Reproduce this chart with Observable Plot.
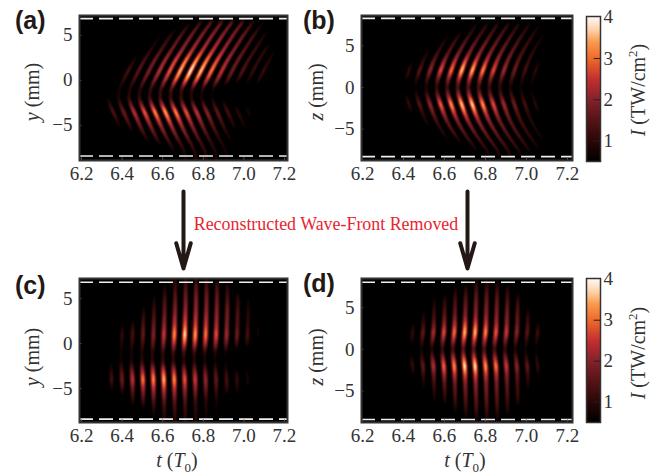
<!DOCTYPE html>
<html><head><meta charset="utf-8">
<script src="https://cdn.jsdelivr.net/npm/d3@7"></script>
<script src="https://cdn.jsdelivr.net/npm/@observablehq/plot@0.6"></script>
<style>
html,body{margin:0;padding:0;background:#fff}
#page{position:relative;width:672px;height:474px;overflow:hidden;font-family:"Liberation Serif",serif;color:#333}
#page svg{position:absolute;overflow:visible}
.tag{position:absolute;font:bold 25px "Liberation Sans",sans-serif;color:#231815;line-height:1}
.lab{position:absolute;font-size:20px;line-height:1.2;white-space:nowrap;color:#333;transform:translate(-50%,-50%)}
.rot{transform:translate(-50%,-50%) rotate(-90deg)}
i{font-style:italic}
sub,sup{font-size:13px;line-height:0}
#note{position:absolute;left:172px;top:214px;width:308px;text-align:center;color:#e8242f;font-size:17.9px;white-space:nowrap}
</style></head><body><div id="page"></div>
<script>
// Colour scale of the intensity bars
const colorStops = [0.5, 1, 1.5, 2, 2.5, 3, 3.4, 3.7, 4];
const colorRamp = ["#000000", "#2a0707", "#551416", "#84212a", "#c42f30", "#ee6a2a", "#f99a4f", "#fdd3ab", "#fff8f2"];
const barTicks = [1, 2, 3, 4];
const timeTicks = [6.2, 6.4, 6.6, 6.8, 7.0, 7.2];
const spaceTicks = [-5, 0, 5];

// Panel (a): rows in mm, wave-front shift per row, fringe intensities per row
const aRows = [7, 6.5, 5, 3.5, 2.5, 1, 0, -1, -2, -3.5, -5, -6.5, -8];
const aFront = [0.172, 0.156, 0.107, 0.066, 0.036, 0, -0.02, -0.046, -0.05, -0.02, 0.008, 0.04, 0.08];
const aStart = 6.325, aStep = 0.0513;
const aI = [
 [0,0,0,0,0,0,0,0,0,0,0,0,0,0,0,0],
 [0,0,0,0,0,.6,1.1,1.4,1.5,1.5,1.4,1.0,.5,0,0,0],
 [0,0,0,.6,1.0,1.4,1.7,1.8,1.9,1.9,1.8,1.6,1.2,.8,0,0],
 [0,0,0,.9,1.3,1.7,2.0,2.2,2.3,2.3,2.1,1.8,1.4,1.1,.9,.5],
 [0,0,.7,1.2,1.6,2.0,2.5,2.9,3.0,2.9,2.6,2.1,1.6,1.2,1.0,.8],
 [0,0,1.3,1.5,1.8,2.3,2.8,3.5,3.9,3.6,3.1,2.4,1.7,1.4,1.1,1.1],
 [0,0,1.0,1.2,1.5,1.8,2.2,2.8,3.0,2.8,2.4,1.9,1.3,.9,.8,.9],
 [0,0,.7,.8,.9,1.0,1.1,1.2,1.1,1.0,.8,.6,0,0,0,0],
 [0,.6,.8,1.0,1.0,1.1,1.1,1.0,1.0,.8,.7,.6,.5,0,0,0],
 [.7,1.4,1.7,2.4,2.9,3.3,3.5,3.3,2.9,2.5,2.0,1.6,1.3,1.0,.9,0],
 [0,.7,1.1,1.6,1.9,2.1,2.2,2.1,1.9,1.7,1.4,1.1,.8,.7,0,0],
 [0,0,0,.8,1.1,1.3,1.4,1.4,1.3,1.1,.9,.7,0,0,0,0],
 [0,0,0,0,0,.6,.8,.9,.9,.8,.7,0,0,0,0,0]
];

// Panel (b)
const bRows = [8.2, 7.6, 6, 4, 3, 2, 1, 0, -1, -2, -3, -4, -6, -7.6, -8.2];
const bFront = [0.14, 0.124, 0.081, 0.033, 0.014, 0, -0.013, -0.024, -0.013, 0, 0.014, 0.029, 0.078, 0.127, 0.14];
const bStart = 6.426, bStep = 0.0515;
const bI = [
 [0,0,0,0,0,0,0,0,0,0,0,0,0],
 [0,0,0,0,.7,.9,1.0,1.0,.9,.8,.6,0,0],
 [0,0,.7,1.0,1.2,1.3,1.4,1.4,1.3,1.2,1.0,.7,0],
 [0,.8,1.2,1.5,1.8,1.9,2.0,1.9,1.8,1.6,1.3,1.0,0],
 [.6,1.0,1.6,2.1,2.4,2.8,2.7,2.5,2.2,1.8,1.5,1.1,.7],
 [1.1,1.5,2.0,2.8,3.1,3.7,3.6,3.3,2.8,2.2,1.7,1.3,1.0],
 [.7,.9,1.2,1.6,1.9,2.2,2.2,2.0,1.7,1.4,1.2,.9,.7],
 [0,.5,.7,.9,1.0,1.1,1.2,1.1,1.0,.9,.7,.6,.5],
 [.7,.9,1.3,1.7,2.0,2.3,2.3,2.0,1.7,1.4,1.2,.9,.7],
 [1.1,1.5,2.1,3.0,3.4,3.7,3.8,3.4,2.8,2.2,1.7,1.3,1.0],
 [.6,1.0,1.6,2.2,2.5,2.8,2.8,2.5,2.2,1.8,1.4,1.0,.6],
 [0,.8,1.2,1.6,1.8,2.0,2.0,1.9,1.7,1.5,1.2,.9,0],
 [0,0,.7,1.0,1.2,1.3,1.4,1.4,1.3,1.2,1.0,.7,0],
 [0,0,0,0,.7,.9,1.0,1.0,.9,.8,.6,0,0],
 [0,0,0,0,0,.6,.7,.7,.6,0,0,0,0]
];

// Panel (c)
const cRows = [7, 6.5, 5, 3.5, 2, 1, 0, -1, -2, -3, -4, -5, -6.5, -8];
const cFront = [0.004, 0.004, 0.004, 0.003, 0.001, 0, -0.002, -0.006, -0.006, -0.003, 0, 0, 0.001, 0.002];
const cStart = 6.297, cStep = 0.0515;
const cI = [
 [0,0,0,0,0,0,0,.8,.9,.9,.8,.6,0,0,0,0],
 [0,0,0,0,0,0,.7,1.1,1.3,1.4,1.3,1.2,.9,0,0,0],
 [0,0,0,0,0,.7,1.2,1.5,1.7,1.8,1.7,1.6,1.3,1.0,.6,0],
 [0,0,0,0,.9,1.2,1.6,1.9,2.1,2.1,2.0,1.9,1.7,1.3,.9,0],
 [0,0,.6,.9,1.3,1.6,2.0,2.5,2.8,2.6,2.5,2.2,1.8,1.4,1.0,.5],
 [0,0,1.1,1.3,1.6,1.9,2.5,3.3,3.8,3.4,3.1,2.8,2.2,1.7,1.3,.8],
 [0,0,.8,1.0,1.2,1.5,1.9,2.4,2.7,2.5,2.3,2.0,1.6,1.2,.9,0],
 [0,0,.7,.7,.8,.9,1.0,1.1,1.1,1.0,.9,.8,.6,0,0,0],
 [0,.5,.7,.8,1.0,1.0,1.0,.9,.8,.8,.7,.6,.5,0,0,0],
 [.5,.9,1.3,1.7,2.1,2.3,2.5,2.3,2.0,1.8,1.5,1.2,.9,.7,.6,0],
 [.6,1.3,1.7,2.5,3.2,3.3,3.6,3.3,2.9,2.6,2.1,1.6,1.3,1.1,.8,0],
 [0,.7,1.1,1.6,2.1,2.3,2.5,2.4,2.1,1.9,1.6,1.2,1.0,.8,.5,0],
 [0,0,0,.8,1.1,1.3,1.4,1.4,1.3,1.1,.9,.7,0,0,0,0],
 [0,0,0,0,0,.6,.9,1.0,1.0,.9,.7,.5,0,0,0,0]
];

// Panel (d)
const dRows = [8.2, 7.6, 6, 4, 3, 2, 1, 0, -1, -2, -3, -4, -6, -7.6, -8.2];
const dFront = [0.006, 0.005, 0.004, 0.002, 0.001, 0, -0.006, -0.01, -0.006, 0, 0.001, 0.002, 0.004, 0.005, 0.006];
const dStart = 6.445, dStep = 0.0509;
const dI = [
 [0,0,0,0,0,0,.7,.7,.6,0,0,0,0],
 [0,0,0,0,.6,.8,1.1,1.1,1.0,.8,0,0,0],
 [0,0,.7,.9,1.2,1.4,1.6,1.6,1.5,1.3,1.0,0,0],
 [0,.8,1.2,1.5,1.7,1.9,2.0,2.0,1.9,1.8,1.5,1.0,0],
 [.6,1.1,1.6,2.0,2.3,2.7,2.7,2.5,2.2,2.0,1.6,1.2,.7],
 [1.1,1.6,2.3,2.8,3.1,3.6,3.6,3.3,2.9,2.6,2.0,1.5,1.2],
 [.8,1.1,1.5,1.8,2.1,2.4,2.4,2.2,2.0,1.7,1.3,1.0,.8],
 [0,.6,.7,.9,1.0,1.2,1.2,1.1,1.0,.9,.7,.6,.5],
 [.8,1.1,1.6,2.0,2.3,2.6,2.6,2.3,2.2,1.8,1.4,1.0,.8],
 [1.1,1.6,2.4,3.0,3.3,3.9,3.9,3.4,3.2,2.6,2.0,1.6,1.1],
 [.6,1.1,1.6,2.2,2.4,2.7,2.7,2.5,2.3,1.9,1.5,1.1,.6],
 [0,.8,1.2,1.5,1.7,1.9,2.0,1.9,1.8,1.6,1.3,.9,0],
 [0,0,.7,.9,1.2,1.4,1.5,1.5,1.4,1.2,1.0,0,0],
 [0,0,0,0,.6,.9,1.1,1.1,1.0,.8,0,0,0],
 [0,0,0,0,0,.6,.8,.8,.7,0,0,0,0]
];

const page = document.getElementById("page");
const serif = '"Liberation Serif",serif';

// Value at (t, y): the fringe nearest in t, its read intensity at this row, and its soft edge.
// A short running mean along y rounds the corners between the read rows.
function fringes(rows, front, start, step, I) {
  const shiftAt = d3.scaleLinear().domain(rows).range(front).clamp(true);
  const shift = y => (shiftAt(y - 0.8) + 2 * shiftAt(y) + shiftAt(y + 0.8)) / 4;
  const columns = I[0].map((_, k) => d3.scaleLinear().domain(rows).range(I.map(r => r[k])).clamp(true));
  const level = (k, y) => (columns[k](y - 0.35) + 2 * columns[k](y) + columns[k](y + 0.35)) / 4;
  return (t, y) => {
    const pos = (t - start - shift(y)) / step;
    const k = Math.round(pos);
    if (k < 0 || k >= columns.length) return 0;
    return level(k, y) * 1.05 * Math.cos(Math.PI * (pos - k)) ** 2;
  };
}

function panel({left, top, w, h, xDomain, yDomain, dashes, field}) {
  const mL = 60, mR = 14, mT = 10, mB = 34;
  const svg = Plot.plot({
    width: w + mL + mR, height: h + mT + mB,
    marginLeft: mL, marginRight: mR, marginTop: mT, marginBottom: mB,
    style: {fontFamily: serif, fontSize: "19px", background: "transparent", color: "#333", overflow: "visible"},
    x: {domain: xDomain}, y: {domain: yDomain},
    color: {type: "linear", domain: colorStops, range: colorRamp, clamp: true},
    marks: [
      Plot.raster({fill: field, x1: xDomain[0], x2: xDomain[1], y1: yDomain[0], y2: yDomain[1], pixelSize: 1}),
      Plot.ruleY(dashes, {stroke: "#eee", strokeWidth: 1.6, strokeDasharray: "14,6"}),
      Plot.ruleY(spaceTicks, {x1: xDomain[0], x2: xDomain[0] + 0.012, stroke: "#555"}),
      Plot.ruleX(timeTicks, {y1: yDomain[0], y2: yDomain[0] + 0.3, stroke: "#555"}),
      Plot.frame({stroke: "#333", strokeWidth: 2}),
      Plot.axisX(timeTicks, {tickSize: 0, tickPadding: 6, fontSize: 19, fontFamily: serif, tickFormat: d => d.toFixed(1), label: null}),
      Plot.axisY(spaceTicks, {tickSize: 0, tickPadding: 7, fontSize: 19, fontFamily: serif, label: null})
    ]
  });
  svg.style.left = (left - mL) + "px";
  svg.style.top = (top - mT) + "px";
  page.append(svg);
}

function colorbar(left, top, w, h) {
  const mL = 2, mR = 24, mT = 4, mB = 4;
  const svg = Plot.plot({
    width: w + mL + mR, height: h + mT + mB,
    marginLeft: mL, marginRight: mR, marginTop: mT, marginBottom: mB,
    style: {fontFamily: serif, fontSize: "19px", background: "transparent", color: "#333", overflow: "visible"},
    x: {domain: [0, 1], axis: null}, y: {domain: [0.5, 4.02]},
    color: {type: "linear", domain: colorStops, range: colorRamp, clamp: true},
    marks: [
      Plot.raster({fill: (x, y) => y, x1: 0, x2: 1, y1: 0.5, y2: 4.02, pixelSize: 1}),
      Plot.ruleY(barTicks.slice(0, 3), {x1: 0.55, x2: 1, stroke: "#222", strokeWidth: 1}),
      Plot.frame({stroke: "#333", strokeWidth: 1.5}),
      Plot.axisY(barTicks, {anchor: "right", tickSize: 0, tickPadding: 3, fontSize: 19, fontFamily: serif, label: null})
    ]
  });
  svg.style.left = (left - mL) + "px";
  svg.style.top = (top - mT) + "px";
  page.append(svg);
}

function arrow(center, top, h) {
  const svg = Plot.plot({
    width: 24, height: h, margin: 0, axis: null,
    style: {background: "transparent"},
    x: {domain: [0, 1], axis: null}, y: {domain: [0, 1], axis: null},
    marks: [Plot.arrow([0], {x1: 0.5, x2: 0.5, y1: 1, y2: 0, stroke: "#231815", strokeWidth: 4, headLength: 17, headAngle: 32, inset: 1})]
  });
  svg.style.left = (center - 12) + "px";
  svg.style.top = top + "px";
  page.append(svg);
}

function html(cls, x, y, content) {
  const el = document.createElement("div");
  el.className = cls;
  el.style.left = x + "px";
  el.style.top = y + "px";
  el.innerHTML = content;
  page.append(el);
}

const leftX = [6.19, 7.215], rightX = [6.195, 7.225];
panel({left: 79, top: 15, w: 208, h: 145, xDomain: leftX, yDomain: [-8.9, 7.2], dashes: [6.85, -8.4], field: fringes(aRows, aFront, aStart, aStep, aI)});
panel({left: 361, top: 15, w: 211, h: 145, xDomain: rightX, yDomain: [-8.76, 8.64], dashes: [8.3, -8.3], field: fringes(bRows, bFront, bStart, bStep, bI)});
panel({left: 79, top: 278, w: 208, h: 144, xDomain: leftX, yDomain: [-8.78, 7.22], dashes: [6.8, -8.4], field: fringes(cRows, cFront, cStart, cStep, cI)});
panel({left: 361, top: 278, w: 211, h: 144, xDomain: rightX, yDomain: [-8.76, 8.5], dashes: [8.05, -8.4], field: fringes(dRows, dFront, dStart, dStep, dI)});
colorbar(586, 16, 14, 145);
colorbar(586, 278, 14, 144);
arrow(183, 190, 79);
arrow(467, 190, 79);

html("tag", 15, 8, "(a)");
html("tag", 303, 8, "(b)");
html("tag", 15, 273, "(c)");
html("tag", 303, 271, "(d)");
html("lab rot", 32, 92, "<i>y</i> (mm)");
html("lab rot", 316, 92, "<i>z</i> (mm)");
html("lab rot", 32, 357, "<i>y</i> (mm)");
html("lab rot", 316, 357, "<i>z</i> (mm)");
html("lab rot", 638, 90, "<i>I</i> (TW/cm<sup>2</sup>)");
html("lab rot", 638, 353, "<i>I</i> (TW/cm<sup>2</sup>)");
html("lab", 177, 460, "<i>t</i> (<i>T</i><sub>0</sub>)");
html("lab", 465, 460, "<i>t</i> (<i>T</i><sub>0</sub>)");
const note = document.createElement("div");
note.id = "note";
note.textContent = "Reconstructed Wave-Front Removed";
page.append(note);
</script></body></html>
